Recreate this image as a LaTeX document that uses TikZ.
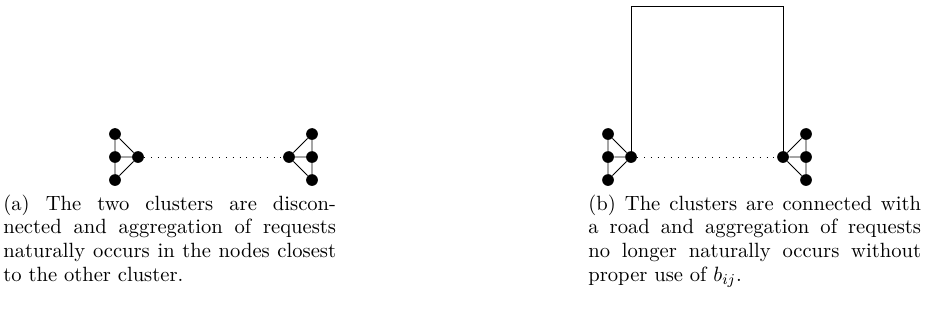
\documentclass[tikz,border=0pt]{standalone}
\usetikzlibrary{calc}
\begin{document}
\begin{tikzpicture}[x=0.529pt,y=-0.529pt,
  vtx/.style={circle,fill=black,inner sep=0pt,minimum size=6.2pt},
  edge/.style={line width=0.4pt},
  road/.style={line width=0.4pt,dash pattern=on 0.5pt off 3.1pt},
  captext/.style={anchor=base west,inner sep=0pt,text width=176pt,align=justify,
    font=\fontsize{10.9pt}{12.6pt}\selectfont}]
\useasboundingbox (0,0) rectangle (925,331);

% ---- left panel: two disconnected clusters ----
\node[vtx] (a1) at (115,134) {};
\node[vtx] (a2) at (115,157) {};
\node[vtx] (a3) at (115,180) {};
\node[vtx] (ac) at (138,157) {};
\node[vtx] (b1) at (312,134) {};
\node[vtx] (b2) at (312,157) {};
\node[vtx] (b3) at (312,180) {};
\node[vtx] (bc) at (289,157) {};
\draw[edge] (a1) -- (a2) -- (a3) (a1) -- (ac) (a2) -- (ac) (a3) -- (ac);
\draw[edge] (b1) -- (b2) -- (b3) (b1) -- (bc) (b2) -- (bc) (b3) -- (bc);
\draw[road] (ac) -- (bc);

% ---- right panel: clusters joined by a road ----
\node[vtx] (c1) at (608,134) {};
\node[vtx] (c2) at (608,157) {};
\node[vtx] (c3) at (608,180) {};
\node[vtx] (cc) at (631,157) {};
\node[vtx] (d1) at (806,134) {};
\node[vtx] (d2) at (806,157) {};
\node[vtx] (d3) at (806,180) {};
\node[vtx] (dc) at (783,157) {};
\draw[edge] (c1) -- (c2) -- (c3) (c1) -- (cc) (c2) -- (cc) (c3) -- (cc);
\draw[edge] (d1) -- (d2) -- (d3) (d1) -- (dc) (d2) -- (dc) (d3) -- (dc);
\draw[road] (cc) -- (dc);
\coordinate (r1) at (631,6);
\coordinate (r2) at (783,6);
\draw[edge] (cc.center) -- (r1) -- (r2) -- (dc.center);

% ---- captions ----
\node[captext] (capa) at (3,210) {(a) The two clusters are discon-\linebreak
  nected and aggregation of requests\linebreak
  naturally occurs in the nodes closest\linebreak
  to the other cluster.};
\node[captext] (capb) at (588,210) {(b) The clusters are connected with\linebreak
  a road and aggregation of requests\linebreak
  no longer naturally occurs without\linebreak
  proper use of $b_{ij}$.};
\end{tikzpicture}
\end{document}
